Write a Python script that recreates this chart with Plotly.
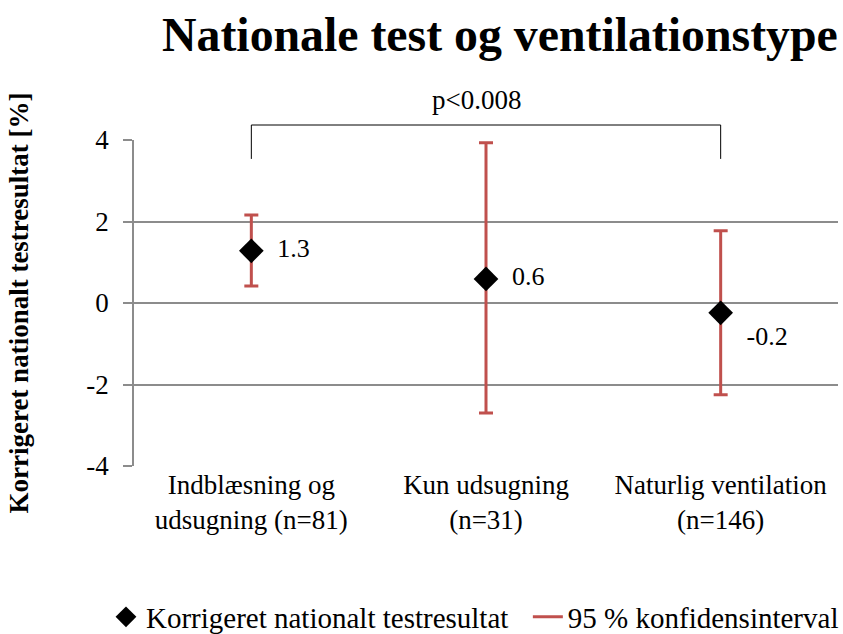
import plotly.graph_objects as go

categories = ["Indblæsning og<br>udsugning (n=81)", "Kun udsugning<br>(n=31)", "Naturlig ventilation<br>(n=146)"]
values = [1.28, 0.59, -0.24]
value_labels = ["1.3", "0.6", "-0.2"]
ci_upper = [2.16, 3.93, 1.77]
ci_lower = [0.42, -2.70, -2.25]
y_ticks = [-4, -2, 0, 2, 4]
y_tick_labels = ["-4", "-2", "0", "2", "4"]
p_text = "p<0.008"
bracket_pair = [0, 2]
legend_names = ["Korrigeret nationalt testresultat", "95 % konfidensinterval"]

FONT = "Liberation Serif"
RED = "#C0504D"
GRID = "#8C8C8C"

x_idx = list(range(len(categories)))

fig = go.Figure()

fig.add_trace(go.Scatter(
    x=x_idx, y=values, mode="markers",
    marker=dict(size=1, opacity=0),
    error_y=dict(type="data", symmetric=False,
                 array=[u - v for u, v in zip(ci_upper, values)],
                 arrayminus=[v - l for l, v in zip(ci_lower, values)],
                 color=RED, thickness=3, width=7),
    showlegend=False, hoverinfo="skip"))

fig.add_trace(go.Scatter(
    x=x_idx, y=values, mode="markers+text",
    marker=dict(symbol="diamond", size=19, color="black"),
    text=["  " + t for t in value_labels],
    textposition=["middle right", "middle right", "bottom right"],
    textfont=dict(family=FONT, size=26, color="black"),
    name=legend_names[0] + "\u00a0\u00a0"))

fig.add_trace(go.Scatter(
    x=[None], y=[None], mode="lines",
    line=dict(color=RED, width=3),
    name=legend_names[1]))

# significance bracket (paper coordinates derived from category index)
n = len(categories)
def xp(i):
    return (i + 0.5) / n

x0, x1 = xp(bracket_pair[0]), xp(bracket_pair[1])
fig.add_shape(type="path", xref="paper", yref="paper",
              path=f"M {x0} 0.942 L {x0} 1.046 L {x1} 1.046 L {x1} 0.942",
              line=dict(color="black", width=1))
fig.add_annotation(x=(x0 + x1) / 2, y=1.122, xref="paper", yref="paper",
                   text=p_text, showarrow=False, xshift=-10,
                   yanchor="middle", font=dict(family=FONT, size=27, color="black"))

fig.update_layout(
    width=843, height=634,
    margin=dict(l=134, r=5, t=140, b=168, autoexpand=False),
    paper_bgcolor="white", plot_bgcolor="white",
    font=dict(family=FONT, size=27, color="black"),
    title=dict(text="<b>Nationale test og ventilationstype</b>",
               x=0.593, xref="container", xanchor="center",
               y=0.9726, yref="container", yanchor="top",
               font=dict(family=FONT, size=47.8, color="black")),
    legend=dict(orientation="h", x=-0.0398, xref="paper", xanchor="left",
                y=-0.463, yref="paper", yanchor="middle",
                font=dict(family=FONT, size=29, color="black"),
                itemwidth=30, traceorder="normal"),
    showlegend=True,
)

fig.update_xaxes(
    range=[-0.5, n - 0.5], tickmode="array", tickvals=x_idx, ticktext=categories,
    showgrid=False, zeroline=False, showline=False, ticks="",
    tickfont=dict(family=FONT, size=27, color="black"))

fig.update_yaxes(
    range=[-4, 4], tickmode="array", tickvals=y_ticks, ticktext=y_tick_labels,
    showgrid=True, gridcolor=GRID, gridwidth=1.5,
    zeroline=False, showline=True, linecolor=GRID, linewidth=1.5,
    ticks="outside", ticklen=9, tickcolor=GRID, tickwidth=1.5,
    ticklabelstandoff=9,
    tickfont=dict(family=FONT, size=27, color="black"),
    title=dict(text="<b>Korrigeret nationalt testresultat [%]</b>",
               font=dict(family=FONT, size=27, color="black"), standoff=50))

fig.write_html("out.html", config={"displayModeBar": False},
               post_script="document.body.style.margin='0';document.body.style.overflow='hidden';")
